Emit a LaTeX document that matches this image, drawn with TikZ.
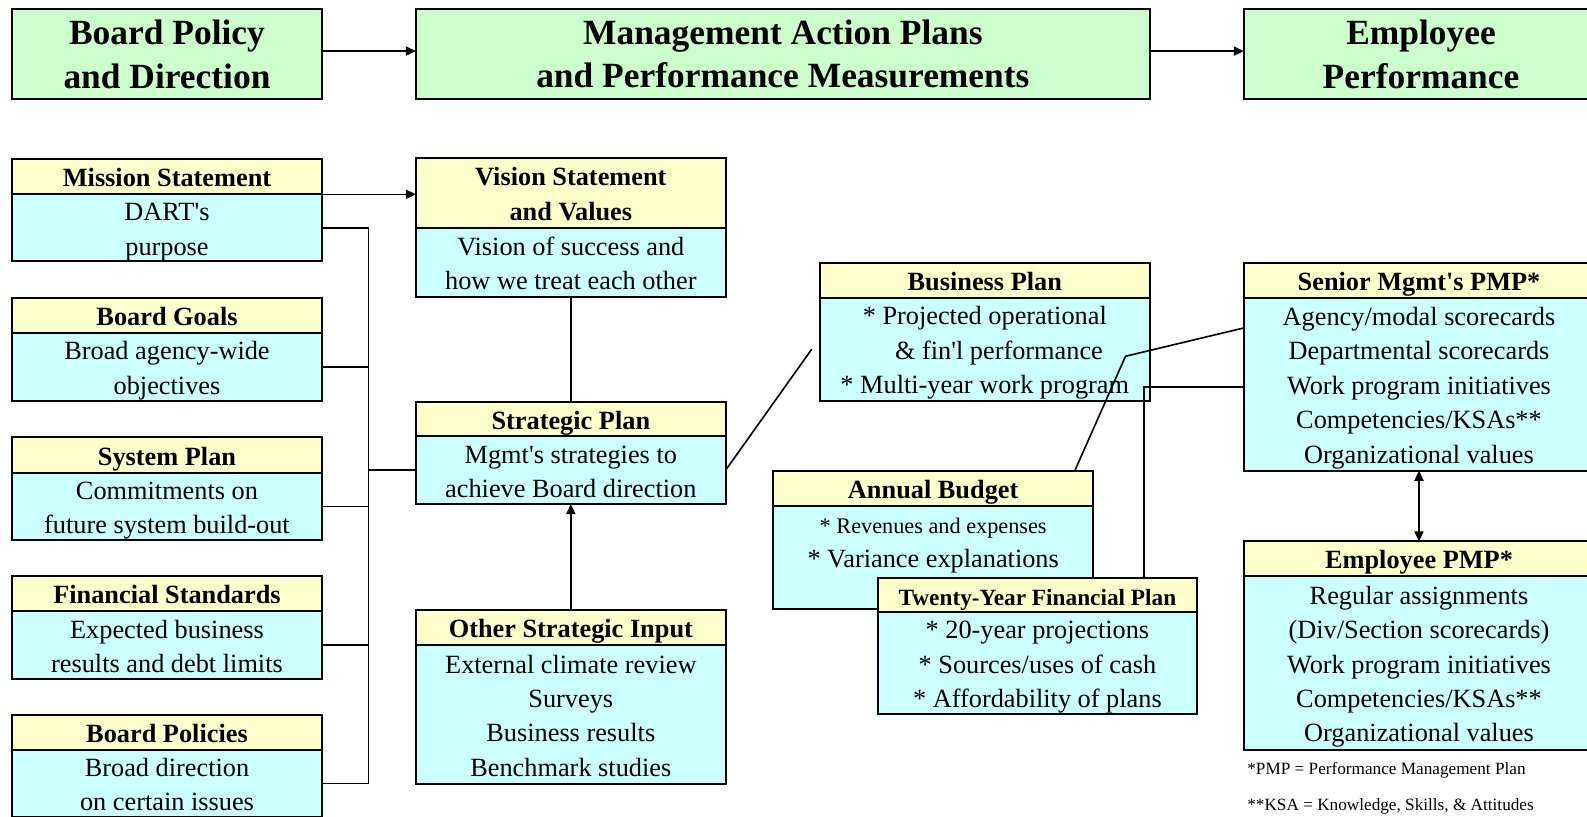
\documentclass[tikz,border=0pt]{standalone}
\usepackage{fontspec}
\setmainfont{Liberation Serif}
\usetikzlibrary{arrows.meta,positioning}
\definecolor{TitleGreen}{HTML}{CCFFCC}
\definecolor{HeadYellow}{HTML}{FFFFCC}
\definecolor{BodyCyan}{HTML}{CCFFFF}
\newcommand{\apos}{\textquotesingle}
\newcommand{\lnstrut}{\rule{0pt}{13pt}}

\begin{document}
\begin{tikzpicture}[x=0.5pt,y=-0.5pt,>={Triangle[length=5pt,width=4.5pt]},
  title/.style={draw,line width=1.2pt,fill=TitleGreen,align=center,inner sep=0pt,outer sep=0pt,anchor=north west,minimum height=44.5pt,font=\fontsize{17.5}{21.5}\selectfont\bfseries},
  head/.style={draw,line width=1pt,fill=HeadYellow,align=center,inner sep=0pt,outer sep=0pt,anchor=north west,minimum height=17.5pt,font=\fontsize{13}{17}\selectfont\bfseries,
    execute at begin node={\rule{0pt}{13pt}},execute at end node={\rule[-3pt]{0pt}{3pt}}},
  body/.style={draw,line width=1pt,fill=BodyCyan,align=center,inner sep=0pt,outer sep=0pt,font=\fontsize{13}{17}\selectfont,
    execute at end node={\rule[-3pt]{0pt}{3pt}}},
  link/.style={line width=0.8pt},
  note/.style={anchor=west,inner sep=0pt,font=\fontsize{8.5}{10}\selectfont}]
  \useasboundingbox (0,0) rectangle (1568,807);

  % top row
  \node[title,minimum width=153pt] (bpd) at (12,9) {Board Policy\\and Direction};
  \node[title,minimum width=362.5pt] (map) at (411,9) {Management Action Plans\\and Performance Measurements};
  \node[title,minimum width=175pt] (emp) at (1229,9) {Employee\\Performance};

  % board column
  \node[head,minimum width=153pt] (ms) at (12,157) {Mission Statement};
  \node[body,minimum width=153pt,minimum height=33pt,below=0pt of ms] (msb) {\lnstrut DART\apos s\\purpose};
  \node[head,minimum width=153pt] (bg) at (12,294) {Board Goals};
  \node[body,minimum width=153pt,minimum height=33.5pt,below=0pt of bg] (bgb) {\lnstrut Broad agency-wide\\objectives};
  \node[head,minimum width=153pt] (sy) at (12,432) {System Plan};
  \node[body,minimum width=153pt,minimum height=33.5pt,below=0pt of sy] (syb) {\lnstrut Commitments on\\future system build-out};
  \node[head,minimum width=153pt] (fs) at (12,569) {Financial Standards};
  \node[body,minimum width=153pt,minimum height=33.5pt,below=0pt of fs] (fsb) {\lnstrut Expected business\\results and debt limits};
  \node[head,minimum width=153pt] (pb) at (12,706) {Board Policies};
  \node[body,minimum width=153pt,minimum height=33pt,below=0pt of pb] (pbb) {\lnstrut Broad direction\\on certain issues};

  % management column
  \node[head,minimum width=153pt,minimum height=34.5pt] (vs) at (411,156) {\lnstrut Vision Statement\\and Values};
  \node[body,minimum width=153pt,minimum height=34pt,below=0pt of vs] (vsb) {\lnstrut Vision of success and\\how we treat each other};
  \node[head,minimum width=153pt,minimum height=17pt] (sp) at (411,397) {Strategic Plan};
  \node[body,minimum width=153pt,minimum height=33.5pt,below=0pt of sp] (spb) {\lnstrut Mgmt\apos s strategies to\\achieve Board direction};
  \node[head,minimum width=153pt,minimum height=17pt] (os) at (411,603) {Other Strategic Input};
  \node[body,minimum width=153pt,minimum height=69pt,below=0pt of os] (osb) {\lnstrut External climate review\\Surveys\\Business results\\Benchmark studies};

  \node[head,minimum width=163pt,minimum height=17pt] (bp) at (810,260) {Business Plan};
  \node[body,minimum width=163pt,minimum height=51pt,below=0pt of bp] (bpb) {\lnstrut * Projected operational\\\hspace*{14pt}\& fin\apos l performance\\* Multi-year work program};
  \node[head,minimum width=158pt] (ab) at (764,465) {Annual Budget};
  \node[body,minimum width=158pt,minimum height=51pt,below=0pt of ab] (abb) {\lnstrut{\fontsize{11}{17}\selectfont * Revenues and expenses}\\* Variance explanations\\\mbox{}};
  \node[head,minimum width=158pt,minimum height=17pt,font=\fontsize{11.5}{17}\selectfont\bfseries] (ty) at (867,571) {Twenty-Year Financial Plan};
  \node[body,minimum width=158pt,minimum height=50pt,below=0pt of ty] (tyb) {\lnstrut * 20-year projections\\* Sources/uses of cash\\* Affordability of plans};

  % employee column
  \node[head,minimum width=173pt,minimum height=17pt] (sm) at (1229,260) {Senior Mgmt\apos s PMP*};
  \node[body,minimum width=173pt,minimum height=85.5pt,below=0pt of sm] (smb) {\lnstrut Agency/modal scorecards\\Departmental scorecards\\Work program initiatives\\Competencies/KSAs**\\Organizational values};
  \node[head,minimum width=173pt,minimum height=17pt] (ep) at (1229,535) {Employee PMP*};
  \node[body,minimum width=173pt,minimum height=86pt,below=0pt of ep] (epb) {\lnstrut Regular assignments\\(Div/Section scorecards)\\Work program initiatives\\Competencies/KSAs**\\Organizational values};

  \node[note] (n1) at (1232,761) {*PMP = Performance Management Plan};
  \node[note] (n2) at (1232,797) {**KSA = Knowledge, Skills, \& Attitudes};

  % connectors
  \coordinate (bus) at (364,0);
  \coordinate (bend) at (1112,352);
  \draw[link,->] ([yshift=1.5pt]bpd.east) -- ([yshift=1.5pt]map.west);
  \draw[link,->] ([yshift=1.5pt]map.east) -- ([yshift=1.5pt]emp.west);
  \draw[link,->] (ms.south east) -- (ms.south east -| vs.west);
  \draw[link] (msb.east) -- (msb.east -| bus) -- (pbb.east -| bus) -- (pbb.east);
  \foreach \b in {bgb,syb,fsb}
    \draw[link] (\b.east) -- (\b.east -| bus);
  \draw[link] (spb.west -| bus) -- (spb.west);
  \draw[link] (vsb.south) -- (sp.north);
  \draw[link,->] (os.north) -- (spb.south);
  \draw[link] (spb.east) -- ([xshift=-4pt]bpb.west);
  \draw[link] ([yshift=-15pt]sm.south west) -- (bend) -- ([xshift=-9pt]ab.north east);
  \draw[link] ([yshift=-1.5pt]smb.west) -| ([xshift=-26.5pt]ty.north east);
  \draw[link,<->] (smb.south) -- (ep.north);
\end{tikzpicture}
\end{document}
